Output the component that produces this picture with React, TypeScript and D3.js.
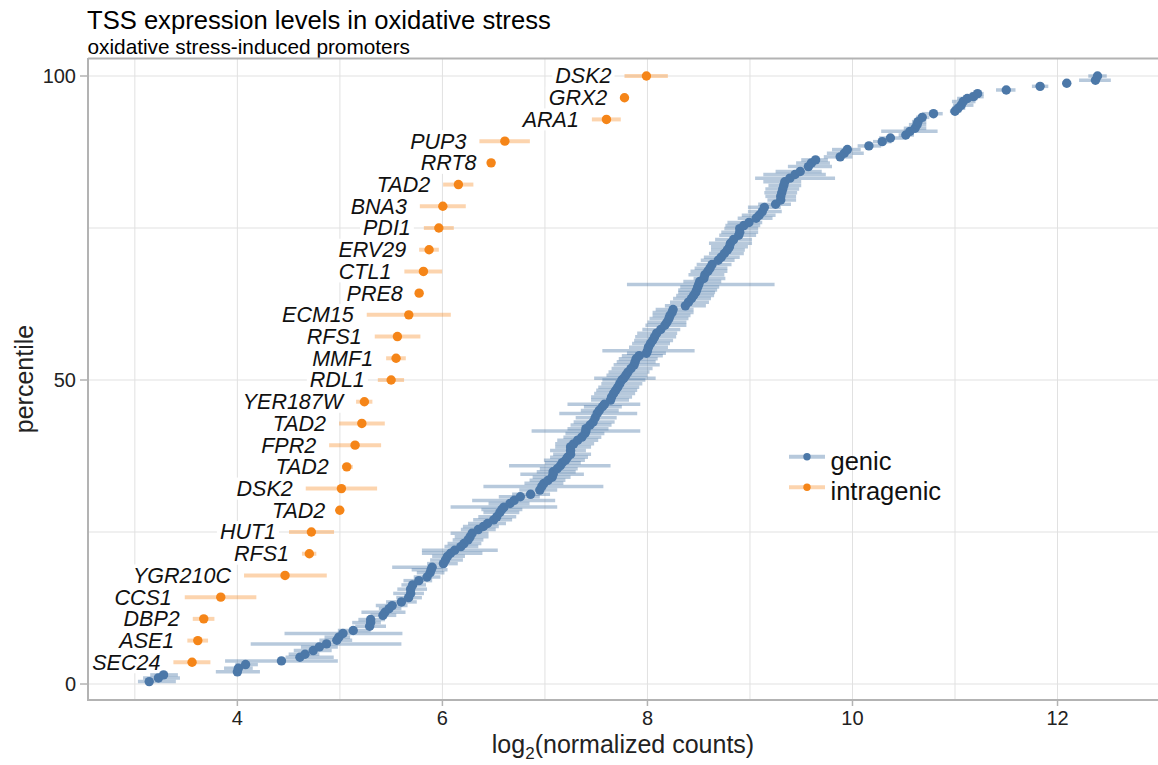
import React, { useEffect, useRef } from 'react';
import * as d3 from 'd3';

const W = 1158;
const H = 765;
const FONT = '"Liberation Sans", Arial, Helvetica, sans-serif';
const BLUE = '#4c78a8';
const ORANGE = '#f58518';

// intragenic (bottom to top)
const intraLabels = ['SEC24', 'ASE1', 'DBP2', 'CCS1', 'YGR210C', 'RFS1', 'HUT1', 'TAD2', 'DSK2', 'TAD2',
  'FPR2', 'TAD2', 'YER187W', 'RDL1', 'MMF1', 'RFS1', 'ECM15', 'PRE8', 'CTL1', 'ERV29',
  'PDI1', 'BNA3', 'TAD2', 'RRT8', 'PUP3', 'ARA1', 'GRX2', 'DSK2'];
const intraLog2 = [3.558, 3.614, 3.672, 3.838, 4.465, 4.702, 4.722, 4.999, 5.015, 5.067,
  5.148, 5.214, 5.239, 5.5, 5.548, 5.561, 5.672, 5.773, 5.815, 5.87,
  5.965, 6.004, 6.156, 6.475, 6.609, 7.6, 7.776, 7.99];
const intraLow = [3.376, 3.512, 3.565, 3.487, 4.065, 4.63, 4.504, 4.985, 4.667, 5.019,
  4.895, 4.992, 5.158, 5.37, 5.451, 5.34, 5.262, 5.74, 5.629, 5.773,
  5.819, 5.78, 6.007, 6.46, 6.361, 7.458, 7.735, 7.776];
const intraHigh = [3.737, 3.714, 3.776, 4.185, 4.872, 4.77, 4.943, 5.015, 5.363, 5.126,
  5.402, 5.438, 5.317, 5.626, 5.643, 5.785, 6.082, 5.8, 5.997, 5.965,
  6.111, 6.228, 6.302, 6.49, 6.853, 7.74, 7.815, 8.199];

// genic
const genicPercentile = [
  0.4, 1.0, 1.5, 2.0, 2.6, 3.2, 3.8, 4.4, 4.9, 5.5,
  6.1, 6.6, 7.2, 7.7, 8.3, 8.8, 9.5, 10.1, 10.6, 11.3,
  11.8, 12.4, 12.9, 13.5, 14.2, 14.9, 15.6, 16.3, 17.0, 17.6,
  18.3, 18.8, 19.2, 19.8, 20.4, 21.0, 21.5, 22.0, 22.6, 23.1,
  23.7, 24.2, 24.8, 25.4, 25.9, 26.4, 27.0, 27.5, 28.2, 28.7,
  29.1, 29.7, 30.2, 30.8, 31.2, 31.9, 32.5, 33.0, 33.5, 34.0,
  34.5, 34.9, 35.4, 35.9, 36.4, 36.8, 37.3, 37.8, 38.4, 39.0,
  39.5, 40.1, 40.6, 41.2, 41.6, 42.0, 42.6, 43.1, 43.8, 44.5,
  45.0, 45.6, 46.0, 46.7, 47.2, 47.8, 48.3, 48.8, 49.4, 50.0,
  50.3, 50.8, 51.3, 51.9, 52.5, 53.0, 53.5, 54.0, 54.4, 54.8,
  55.4, 56.0, 56.5, 57.1, 57.7, 58.3, 59.0, 59.5, 60.1, 60.6,
  61.1, 61.6, 62.2, 62.8, 63.4, 63.9, 64.4, 64.8, 65.3, 65.7,
  66.2, 66.7, 67.3, 67.9, 68.4, 69.0, 69.7, 70.2, 70.8, 71.4,
  71.9, 72.5, 73.1, 73.8, 74.3, 74.9, 75.4, 75.9, 76.6, 77.1,
  77.7, 78.4, 78.9, 79.6, 80.2, 80.8, 81.4, 82.0, 82.6, 83.2,
  83.8, 84.3, 85.1, 85.7, 86.2, 86.7, 87.3, 87.9, 88.5, 89.2,
  89.8, 90.3, 90.9, 91.4, 92.0, 92.5, 93.2, 93.8, 94.2, 94.7,
  95.2, 95.8, 96.3, 96.6, 97.1, 97.7, 98.3, 98.8, 99.3, 100.0,
];
const genicLog2 = [
  3.14, 3.23, 3.28, 4.0, 4.01, 4.08, 4.43, 4.61, 4.66, 4.74,
  4.8, 4.87, 4.97, 4.99, 5.03, 5.13, 5.29, 5.3, 5.3, 5.42,
  5.44, 5.48, 5.51, 5.6, 5.67, 5.69, 5.69, 5.71, 5.77, 5.85,
  5.88, 5.89, 5.9, 6.01, 6.03, 6.05, 6.08, 6.12, 6.18, 6.21,
  6.25, 6.27, 6.29, 6.35, 6.4, 6.44, 6.5, 6.53, 6.56, 6.58,
  6.6, 6.66, 6.7, 6.76, 6.86, 6.95, 6.97, 6.99, 7.03, 7.07,
  7.08, 7.08, 7.12, 7.15, 7.17, 7.2, 7.22, 7.25, 7.25, 7.25,
  7.28, 7.32, 7.36, 7.39, 7.4, 7.4, 7.44, 7.47, 7.49, 7.51,
  7.53, 7.56, 7.58, 7.64, 7.65, 7.67, 7.69, 7.71, 7.73, 7.75,
  7.77, 7.79, 7.81, 7.84, 7.87, 7.88, 7.89, 7.92, 7.99, 8.0,
  8.01, 8.03, 8.05, 8.07, 8.09, 8.13, 8.17, 8.19, 8.21, 8.22,
  8.24, 8.25, 8.37, 8.4, 8.43, 8.45, 8.47, 8.48, 8.49, 8.5,
  8.51, 8.55, 8.56, 8.59, 8.61, 8.63, 8.69, 8.72, 8.75, 8.78,
  8.8, 8.81, 8.84, 8.89, 8.9, 8.9, 8.94, 8.99, 9.06, 9.09,
  9.12, 9.14, 9.25, 9.3, 9.3, 9.31, 9.32, 9.33, 9.34, 9.39,
  9.44, 9.49, 9.57, 9.6, 9.64, 9.88, 9.92, 9.95, 10.16, 10.29,
  10.37, 10.52, 10.56, 10.61, 10.63, 10.64, 10.68, 10.79, 11.0, 11.03,
  11.06, 11.08, 11.12, 11.18, 11.22, 11.5, 11.83, 12.09, 12.37, 12.39,
];
const genicLow = [
  3.03, 3.08, 3.15, 3.79, 3.87, 3.98, 3.88, 4.47, 4.5, 4.55,
  4.62, 4.13, 4.8, 4.85, 4.46, 4.98, 5.15, 5.12, 5.18, 5.3,
  5.21, 5.38, 5.35, 5.45, 5.55, 5.52, 5.56, 5.6, 5.62, 5.72,
  5.75, 5.7, 5.51, 5.85, 5.88, 5.9, 5.8, 5.8, 6.02, 6.05,
  6.1, 6.12, 6.08, 6.18, 6.2, 6.25, 6.3, 6.35, 6.4, 6.38,
  6.08, 6.45, 6.29, 6.55, 6.68, 6.75, 6.4, 6.8, 6.85, 6.88,
  6.76, 6.92, 6.95, 6.65, 7.0, 6.99, 7.05, 7.08, 7.05, 7.1,
  7.1, 7.12, 7.18, 7.2, 6.87, 7.22, 7.25, 7.28, 7.3, 7.14,
  7.35, 7.38, 7.22, 7.45, 7.45, 7.48, 7.5, 7.52, 7.55, 7.56,
  7.48, 7.6, 7.62, 7.65, 7.67, 7.7, 7.72, 7.75, 7.8, 7.56,
  7.82, 7.85, 7.87, 7.88, 7.9, 7.95, 7.98, 8.0, 8.02, 8.05,
  8.05, 8.08, 8.17, 8.22, 8.25, 8.28, 8.3, 8.3, 8.32, 7.8,
  8.35, 8.45, 8.4, 8.42, 8.46, 8.48, 8.52, 8.55, 8.6, 8.62,
  8.62, 8.6, 8.66, 8.7, 8.72, 8.75, 8.76, 8.78, 8.88, 8.92,
  8.98, 8.98, 9.08, 9.17, 9.15, 9.14, 9.15, 9.18, 9.13, 9.05,
  9.13, 9.25, 9.37, 9.45, 9.5, 9.72, 9.75, 9.8, 10.05, 10.2,
  10.26, 10.45, 10.28, 10.5, 10.55, 10.58, 10.62, 10.68, 10.95, 10.97,
  10.98, 10.97, 11.02, 11.08, 11.15, 11.4, 11.75, 12.05, 12.21, 12.3,
];
const genicHigh = [
  3.4, 3.44, 3.42, 4.22, 4.15, 4.2, 4.98, 4.94, 4.8, 4.92,
  4.98, 5.6, 5.12, 5.1, 5.61, 5.3, 5.45, 5.4, 5.44, 5.55,
  5.64, 5.6, 5.66, 5.75, 5.8, 5.82, 5.85, 5.84, 5.9, 5.98,
  6.02, 6.05, 6.0, 6.15, 6.2, 6.22, 6.39, 6.54, 6.35, 6.38,
  6.4, 6.45, 6.45, 6.52, 6.55, 6.62, 6.68, 6.72, 6.75, 6.78,
  7.12, 6.85, 7.1, 6.95, 7.05, 7.12, 7.57, 7.18, 7.2, 7.25,
  7.38, 7.3, 7.32, 7.64, 7.35, 7.39, 7.42, 7.45, 7.4, 7.45,
  7.48, 7.52, 7.55, 7.58, 7.93, 7.62, 7.65, 7.68, 7.7, 7.9,
  7.72, 7.75, 7.93, 7.82, 7.85, 7.88, 7.9, 7.92, 7.95, 7.98,
  8.08, 8.0, 8.02, 8.05, 8.12, 8.08, 8.1, 8.15, 8.18, 8.46,
  8.2, 8.22, 8.25, 8.28, 8.29, 8.32, 8.38, 8.38, 8.4, 8.42,
  8.45, 8.45, 8.57, 8.6, 8.62, 8.65, 8.66, 8.68, 8.7, 9.24,
  8.72, 8.76, 8.75, 8.78, 8.78, 8.82, 8.85, 8.9, 8.94, 8.95,
  8.98, 9.02, 9.02, 9.06, 9.08, 9.08, 9.1, 9.12, 9.22, 9.25,
  9.31, 9.3, 9.4, 9.45, 9.45, 9.46, 9.48, 9.5, 9.5, 9.83,
  9.74, 9.7, 9.8, 9.78, 9.76, 10.0, 10.11, 10.08, 10.28, 10.38,
  10.52, 10.6, 10.83, 10.72, 10.72, 10.72, 10.75, 10.88, 11.06, 11.1,
  11.18, 11.2, 11.22, 11.28, 11.28, 11.59, 11.91, 12.13, 12.52, 12.48,
];

const xTicks = [4, 6, 8, 10, 12];
const xGrid = [3, 4, 5, 6, 7, 8, 9, 10, 11, 12];
const yTicks = [0, 50, 100];
const yGrid = [0, 25, 50, 75, 100];
const legendItems = ['genic', 'intragenic'];

export default function App() {
  const ref = useRef<SVGSVGElement>(null);

  useEffect(() => {
    const svg = d3.select(ref.current);
    svg.selectAll('*').remove();
    const left = 88, right = 1158, top = 58, bottom = 700;
    const x = d3.scaleLinear().domain([2.543, 12.98]).range([left, right]);
    const y = d3.scaleLinear().domain([-2.63, 102.96]).range([bottom, top]);

    const genic = genicLog2.map((m, i) => ({ m, p: genicPercentile[i], lo: genicLow[i], hi: genicHigh[i] }));
    const n = intraLabels.length;
    const intra = intraLog2.map((m, i) => ({ m, p: ((i + 1) / n) * 100, lo: intraLow[i], hi: intraHigh[i], label: intraLabels[i] }));

    svg.append('rect').attr('width', W).attr('height', H).attr('fill', '#fff');

    // titles
    svg.append('text').attr('x', 87).attr('y', 28.5).attr('font-family', FONT).attr('font-size', 25.6)
      .attr('fill', '#000').text('TSS expression levels in oxidative stress');
    svg.append('text').attr('x', 87.5).attr('y', 53.5).attr('font-family', FONT).attr('font-size', 20.8)
      .attr('fill', '#000').text('oxidative stress-induced promoters');

    // grid
    const g = svg.append('g');
    g.selectAll('line.vg').data(xGrid).enter().append('line')
      .attr('x1', (d) => x(d)).attr('x2', (d) => x(d)).attr('y1', top).attr('y2', bottom)
      .attr('stroke', '#e1e1e1').attr('stroke-width', 1);
    g.selectAll('line.hg').data(yGrid).enter().append('line')
      .attr('x1', left).attr('x2', right).attr('y1', (d) => y(d)).attr('y2', (d) => y(d))
      .attr('stroke', '#e1e1e1').attr('stroke-width', 1);

    // axes frame
    const axisColor = '#b3b3b3';
    svg.append('line').attr('x1', left).attr('x2', right).attr('y1', bottom).attr('y2', bottom)
      .attr('stroke', axisColor).attr('stroke-width', 2.2);
    svg.append('line').attr('x1', left).attr('x2', right).attr('y1', top + 0.5).attr('y2', top + 0.5)
      .attr('stroke', axisColor).attr('stroke-width', 2);
    svg.append('line').attr('x1', left).attr('x2', left).attr('y1', top).attr('y2', bottom + 1)
      .attr('stroke', axisColor).attr('stroke-width', 2);

    // ticks
    svg.selectAll('line.xt').data(xTicks).enter().append('line')
      .attr('x1', (d) => x(d)).attr('x2', (d) => x(d)).attr('y1', bottom + 1).attr('y2', bottom + 6)
      .attr('stroke', axisColor).attr('stroke-width', 1.5);
    svg.selectAll('text.xt').data(xTicks).enter().append('text')
      .attr('x', (d) => x(d)).attr('y', 725).attr('text-anchor', 'middle')
      .attr('font-family', FONT).attr('font-size', 20).attr('fill', '#222').text((d) => String(d));
    svg.selectAll('line.yt').data(yTicks).enter().append('line')
      .attr('x1', left - 8).attr('x2', left - 1).attr('y1', (d) => y(d)).attr('y2', (d) => y(d))
      .attr('stroke', axisColor).attr('stroke-width', 1.5);
    svg.selectAll('text.yt').data(yTicks).enter().append('text')
      .attr('x', 76).attr('y', (d) => y(d) + 7).attr('text-anchor', 'end')
      .attr('font-family', FONT).attr('font-size', 20).attr('fill', '#222').text((d) => String(d));

    // axis titles
    const xt = svg.append('text').attr('x', (left + right) / 2).attr('y', 753).attr('text-anchor', 'middle')
      .attr('font-family', FONT).attr('font-size', 25).attr('fill', '#222');
    xt.append('tspan').text('log');
    xt.append('tspan').attr('font-size', 17).attr('dy', 6).text('2');
    xt.append('tspan').attr('dy', -6).text('(normalized counts)');
    svg.append('text').attr('transform', `translate(33,${(top + bottom) / 2}) rotate(-90)`)
      .attr('text-anchor', 'middle').attr('font-family', FONT).attr('font-size', 25).attr('fill', '#222')
      .text('percentile');

    // intragenic labels with white background
    const lg = svg.append('g');
    intra.forEach((d) => {
      const t = lg.append('text').attr('x', x(d.lo) - 13).attr('y', y(d.p) + 7.4)
        .attr('text-anchor', 'end').attr('font-family', FONT).attr('font-size', 21.5)
        .attr('font-style', 'italic').attr('fill', '#111').text(d.label);
      const bb = (t.node() as SVGTextElement).getBBox();
      lg.insert('rect', () => t.node() as any)
        .attr('x', bb.x - 3).attr('y', y(d.p) - 11).attr('width', bb.width + 6).attr('height', 22)
        .attr('fill', '#fff');
    });

    // genic error bars + points
    svg.append('g').selectAll('line').data(genic).enter().append('line')
      .attr('x1', (d) => x(d.lo)).attr('x2', (d) => x(d.hi)).attr('y1', (d) => y(d.p)).attr('y2', (d) => y(d.p))
      .attr('stroke', BLUE).attr('stroke-opacity', 0.4).attr('stroke-width', 3.5);
    svg.append('g').selectAll('circle').data(genic).enter().append('circle')
      .attr('cx', (d) => x(d.m)).attr('cy', (d) => y(d.p)).attr('r', 4.7).attr('fill', BLUE);

    // intragenic error bars + points
    svg.append('g').selectAll('line').data(intra).enter().append('line')
      .attr('x1', (d) => x(d.lo)).attr('x2', (d) => x(d.hi)).attr('y1', (d) => y(d.p)).attr('y2', (d) => y(d.p))
      .attr('stroke', ORANGE).attr('stroke-opacity', 0.35).attr('stroke-width', 4);
    svg.append('g').selectAll('circle').data(intra).enter().append('circle')
      .attr('cx', (d) => x(d.m)).attr('cy', (d) => y(d.p)).attr('r', 4.7).attr('fill', ORANGE);

    // legend
    const colors = [BLUE, ORANGE];
    legendItems.forEach((name, i) => {
      const ly = 456.7 + i * 30.6;
      svg.append('line').attr('x1', 789).attr('x2', 825).attr('y1', ly).attr('y2', ly)
        .attr('stroke', colors[i]).attr('stroke-opacity', i === 0 ? 0.4 : 0.35).attr('stroke-width', 4);
      svg.append('circle').attr('cx', 807).attr('cy', ly).attr('r', 3.7).attr('fill', colors[i]);
      svg.append('text').attr('x', 830.5).attr('y', ly + 12.8).attr('font-family', FONT).attr('font-size', 25.5)
        .attr('fill', '#111').text(name);
    });
  }, []);

  return (
    <svg ref={ref} width={W} height={H} style={{ position: 'absolute', left: 0, top: 0 }} />
  );
}
